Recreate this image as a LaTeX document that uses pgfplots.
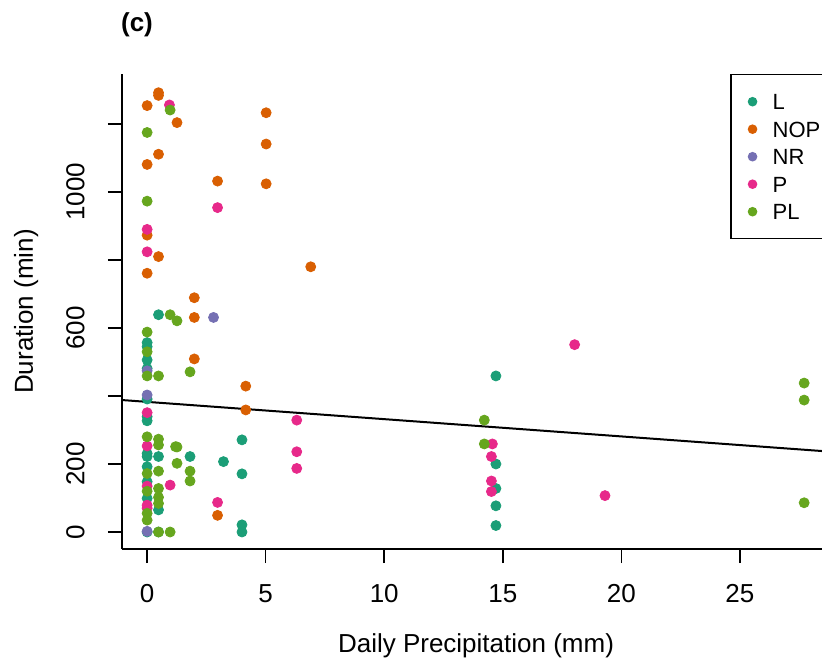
\documentclass[border=0pt]{standalone}
\usepackage{fontspec}
\setmainfont{Liberation Sans}
\usepackage{pgfplots}
\pgfplotsset{compat=1.18}

% Dark2 palette
\definecolor{cL}{HTML}{1B9E77}
\definecolor{cNOP}{HTML}{D95F02}
\definecolor{cNR}{HTML}{7570B3}
\definecolor{cP}{HTML}{E7298A}
\definecolor{cPL}{HTML}{66A61E}

\begin{document}
\fontsize{13}{15.6}\selectfont
\begin{tikzpicture}
\useasboundingbox (-61pt,-56.5pt) rectangle (350pt,274.5pt);
\clip (-61pt,-56.5pt) rectangle (350pt,274.5pt);
\begin{axis}[
  width=354pt, height=237.5pt, scale only axis,
  xmin=-1.06, xmax=28.8, ymin=-50, ymax=1347,
  axis x line*=bottom, axis y line*=left,
  axis line style={line width=0.75pt, black},
  tick style={line width=0.75pt, black},
  tick align=outside, major tick length=7pt,
  xtick={0,5,10,15,20,25}, xticklabels={0,5,10,15,20,25},
  ytick={0,200,400,600,800,1000,1200}, yticklabels={0,200,,600,,1000,},
  xticklabel style={anchor=north, inner sep=0pt},
  xticklabel shift=10.5pt,
  yticklabel style={rotate=90, anchor=south, inner sep=0pt},
  yticklabel shift=11.5pt,
  xlabel={Daily Precipitation (mm)},
  ylabel={Duration (min)},
  xlabel style={at={(axis description cs:0.5,-0.17684)}, anchor=north, inner sep=0pt},
  ylabel style={at={(axis description cs:-0.12571,0.5)}, anchor=base, inner sep=0pt},
  legend style={at={(axis description cs:0.8588,1)}, anchor=north west,
    draw=black, line width=0.75pt, fill=white,
    inner xsep=8.5pt, inner ysep=6.6pt,
    font=\fontsize{11}{13}\selectfont,
    nodes={inner sep=0pt, text height=10.8pt, text depth=2.95pt},
    /tikz/every odd column/.append style={column sep=7.7pt}},
  legend cell align=left,
  legend image code/.code={\fill[#1] (0pt,0pt) circle (2pt);},
  every axis plot/.append style={only marks, mark=*, mark size=2.5pt, mark options={draw=none}},
]
% L
\addplot[color=cL] coordinates {
  (0,557) (0,545) (0,506) (0,481) (0,391) (0,339) (0,327) (0,231) (0,222)
  (0,192) (0,148) (0,99) (0,0)
  (0.48,639) (0.48,222) (0.48,65) (0.48,0)
  (1.81,222) (3.22,207) (4.0,271) (4.0,171) (4.0,21) (4.0,0)
  (14.71,459) (14.71,200) (14.71,128) (14.71,77) (14.71,19)
};
\addlegendentry{L}
% NOP
\addplot[color=cNOP] coordinates {
  (0,1254) (0.48,1292) (0.48,1284) (1.26,1204) (0.48,1111) (0,1081)
  (5.02,1233) (5.02,1141) (5.02,1024) (2.97,1032) (0,873) (0.48,810) (0,761)
  (6.9,780) (1.99,689) (1.99,631) (1.99,509) (4.16,429) (4.16,359) (2.97,49)
};
\addlegendentry{NOP}
% NR
\addplot[color=cNR] coordinates {
  (2.8,631) (0,474) (0,403) (0,2)
};
\addlegendentry{NR}
% P
\addplot[color=cP] coordinates {
  (0.94,1256) (2.97,954) (0,890) (0,824) (0,351) (0,253) (0,135) (0,79) (0,70)
  (0.97,138) (2.97,87) (6.31,329) (6.31,236) (6.31,187)
  (14.56,259) (14.52,222) (14.52,150) (14.52,119) (18.03,551) (19.31,107)
};
\addlegendentry{P}
% PL
\addplot[color=cPL] coordinates {
  (0.97,1241) (0,1175) (0,973) (0.97,639) (1.26,621) (0,588) (0,530) (0,459)
  (0.48,459) (1.81,471) (0,280) (0,172) (0,120) (0,55) (0,35)
  (0.48,273) (0.48,256) (0.48,179) (0.48,128) (0.48,102) (0.48,84) (0.48,0) (0.97,0)
  (1.2,251) (1.26,250) (1.26,202) (1.81,179) (1.81,150)
  (14.22,329) (14.22,259) (27.71,438) (27.71,388) (27.71,86)
};
\addlegendentry{PL}
% fitted regression line
\addplot[black, line width=1pt, mark=none, only marks=false, sharp plot, forget plot]
  coordinates {(-1.06,388.1) (28.8,236.4)};
\end{axis}
\node[font=\bfseries] at (7.5pt,262.25pt) {(c)};
\end{tikzpicture}
\end{document}
